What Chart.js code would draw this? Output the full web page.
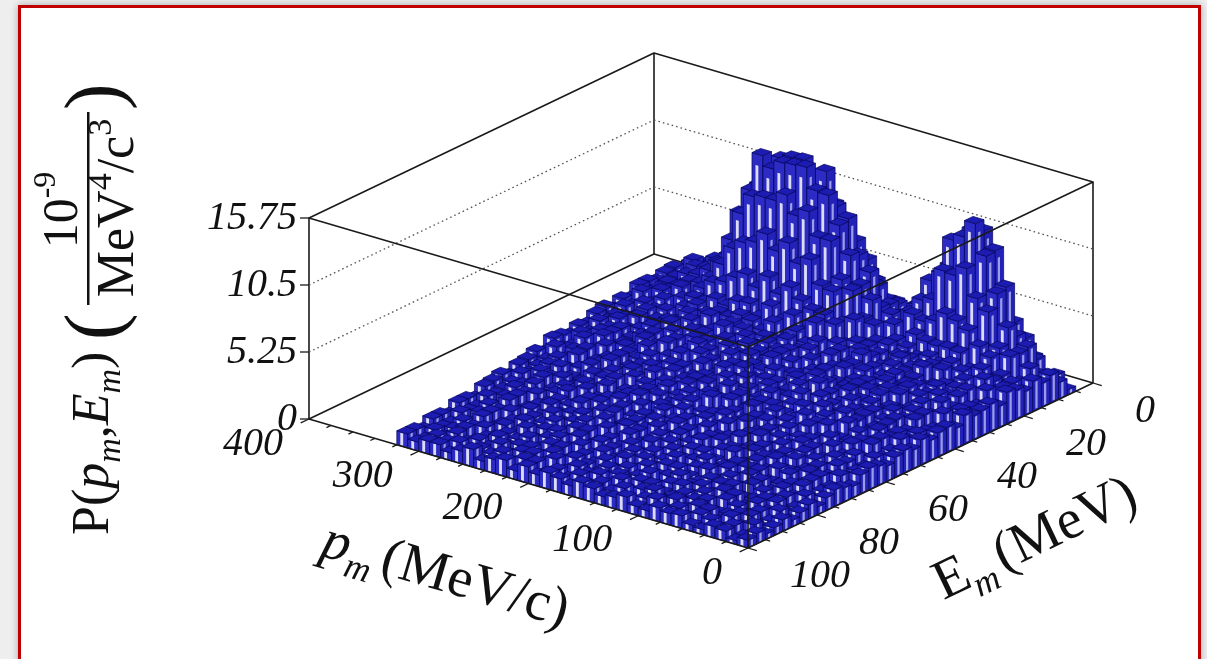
<!DOCTYPE html>
<html>
<head>
<meta charset="utf-8">
<script src="https://cdn.jsdelivr.net/npm/chart.js@4.4.1/dist/chart.umd.min.js"></script>
<style>
  html, body { margin: 0; padding: 0; width: 1207px; height: 659px; overflow: hidden; background: #eeeeee; }
  #frame { position: absolute; left: 18px; top: 5px; width: 1177px; height: 700px; border: 3px solid #c00000; background: #fff; box-shadow: 0 0 7px rgba(0,0,0,0.3); }
  #lego { position: absolute; left: 0; top: 0; }
</style>
</head>
<body>
<div id="frame"></div>
<canvas id="lego" width="1207" height="659"></canvas>
<script>
// P(pm, Em) lego plot, values in 1e-9 MeV^-4 c^3.
const PM_BIN = 10;   // MeV/c
const EM_BIN = 2.5;  // MeV
const pmCenters = [5,15,25,35,45,55,65,75,85,95,105,115,125,135,145,155,165,175,185,195,205,215,225,235,245,255,265,275,285,295,305,315];
const emCenters = [6.25,8.75,11.25,13.75,16.25,18.75,21.25,23.75,26.25,28.75,31.25,33.75,36.25,38.75,41.25,43.75,46.25,48.75,51.25,53.75,56.25,58.75,61.25,63.75,66.25,68.75,71.25,73.75,76.25,78.75,81.25,83.75,86.25,88.75,91.25,93.75,96.25,98.75];
// one row per Em bin, one value per pm bin
const prob = [
  [0.4,1.3,1.0,2.2,2.2,3.9,4.2,3.9,3.6,2.8,2.5,2.0,1.1,1.7,0.8,1.6,1.1,1.6,1.2,1.5,1.2,1.4,1.4,1.1,1.5,1.0,1.3,1.1,1.5,0.7,1.4,0.9],
  [1.3,1.5,2.6,4.0,5.0,6.9,8.3,8.5,7.4,5.7,4.1,4.0,2.7,2.4,2.6,3.4,2.5,3.5,3.4,3.3,3.6,3.1,3.3,3.6,2.5,3.3,2.7,1.9,2.7,2.2,2.2,2.5],
  [2.2,2.0,3.9,4.5,8.1,10.7,12.0,11.8,10.1,8.5,6.7,4.4,4.6,3.5,4.4,4.0,5.6,5.0,5.8,5.1,6.2,5.8,5.5,5.8,5.0,4.5,3.4,3.6,3.3,3.4,2.9,3.1],
  [1.9,2.8,3.7,5.5,7.9,10.6,12.9,11.6,11.1,8.2,7.4,5.2,4.3,4.8,4.9,6.1,7.1,8.0,8.4,8.7,8.7,9.0,9.0,7.9,8.0,5.7,5.2,3.8,4.3,3.1,3.8,3.0],
  [2.4,2.0,3.8,4.2,6.8,7.6,9.7,8.9,9.0,6.5,6.2,5.0,4.4,5.1,6.3,8.1,9.3,10.6,11.7,12.0,12.0,11.9,12.6,10.9,10.5,7.4,6.7,4.8,4.1,4.2,3.8,3.8],
  [1.9,2.3,2.6,3.8,4.4,5.4,5.9,6.2,5.4,5.1,5.4,4.0,4.9,5.2,7.7,8.8,11.4,12.1,14.6,14.0,15.0,14.9,14.6,14.1,12.0,9.4,7.2,4.8,5.2,3.9,4.6,3.5],
  [2.3,2.2,2.5,3.2,2.9,4.0,4.1,4.0,4.1,4.4,3.5,4.7,3.9,6.1,7.0,9.1,11.2,13.3,13.4,15.0,14.9,14.8,14.1,14.9,11.9,9.9,6.3,5.5,4.8,4.7,3.6,4.1],
  [2.5,1.9,3.0,2.1,3.1,3.5,3.2,3.5,3.2,3.7,4.0,3.3,4.7,4.9,6.9,7.5,10.3,10.3,12.1,11.5,12.9,12.2,12.2,12.0,10.4,8.1,6.0,5.2,4.6,4.4,3.9,4.0],
  [1.7,2.7,2.2,3.0,2.3,3.3,3.4,3.1,3.4,3.4,4.0,4.0,3.5,5.2,4.7,6.9,7.1,8.9,8.3,9.7,8.8,9.9,9.0,8.7,8.0,6.5,5.2,4.5,4.4,3.8,3.8,3.7],
  [2.2,1.8,2.8,2.7,2.7,2.4,3.6,3.3,3.8,3.0,3.6,3.9,4.0,3.6,4.9,5.4,5.5,6.0,6.8,6.0,7.1,6.0,6.8,6.3,5.7,5.4,4.7,3.6,4.3,3.8,3.7,4.0],
  [2.0,2.0,2.6,2.5,2.9,2.6,3.0,3.2,3.5,3.2,3.7,4.0,3.1,4.0,3.6,5.1,4.1,5.2,4.5,5.4,4.3,5.1,5.0,4.4,4.7,4.2,4.3,4.0,3.2,4.1,3.3,4.0],
  [1.9,2.1,2.1,2.8,2.6,3.0,2.9,3.4,3.0,3.4,4.2,3.3,4.0,3.2,4.2,3.8,4.5,3.6,4.7,3.8,4.3,4.5,4.1,4.2,3.9,4.3,3.9,3.1,4.0,3.4,4.1,3.3],
  [2.3,1.8,2.8,1.9,2.8,3.2,2.8,3.2,2.8,3.5,3.7,3.0,4.0,3.3,3.9,3.6,4.2,3.8,3.9,3.5,4.0,4.2,3.5,4.3,3.5,4.0,3.1,3.7,3.5,3.8,3.3,3.6],
  [1.6,2.5,2.1,2.8,2.1,3.0,3.2,2.8,3.2,3.1,3.8,3.6,3.1,3.7,3.1,3.9,3.7,4.0,3.5,4.0,3.5,4.3,3.7,3.4,4.0,3.5,3.5,3.3,3.8,3.0,3.6,3.1],
  [2.0,1.6,2.5,2.5,2.2,2.3,3.0,3.2,3.3,2.9,3.0,3.7,3.4,2.8,3.6,4.0,3.4,3.6,4.0,3.4,3.9,3.4,3.8,3.8,3.1,3.9,3.4,2.9,3.6,3.3,3.2,3.6],
  [1.9,1.7,2.4,2.2,2.6,2.2,2.7,2.7,3.2,2.8,3.3,3.6,2.8,3.2,3.1,4.0,3.2,3.7,3.5,3.9,3.0,3.7,3.8,2.9,3.8,3.2,3.7,3.2,2.9,3.5,3.1,3.4],
  [1.6,1.9,1.8,2.5,2.2,2.6,2.4,3.0,2.5,3.0,3.6,2.8,3.5,2.7,3.6,3.3,3.5,3.1,3.8,3.0,3.6,3.9,3.1,3.7,3.1,3.7,3.3,2.8,3.3,3.1,3.4,2.9],
  [2.0,1.7,2.0,2.4,1.9,2.6,2.8,2.4,2.7,3.1,2.6,3.5,2.8,3.2,3.2,3.0,3.6,3.6,2.8,3.4,3.7,3.0,3.0,3.8,3.3,3.6,2.6,2.7,3.3,3.2,2.8,3.1],
  [1.5,2.1,1.9,2.3,1.8,2.5,2.9,2.3,2.9,2.5,3.4,2.9,2.7,3.3,2.4,3.4,3.0,3.7,2.8,3.5,2.9,3.8,3.3,2.7,3.6,2.9,3.1,2.6,3.4,2.5,3.1,2.7],
  [1.8,1.5,2.2,1.6,2.2,2.7,2.1,2.7,2.0,3.0,2.9,2.3,3.3,2.6,3.1,2.8,3.5,2.9,3.1,2.8,3.3,3.3,2.8,3.4,2.9,3.1,2.4,3.2,2.6,3.3,2.4,3.0],
  [1.6,1.3,2.1,2.1,1.8,1.8,2.6,2.5,2.9,2.3,2.5,2.9,2.9,2.3,2.9,3.4,2.6,3.1,3.2,2.9,3.3,2.7,3.2,3.0,2.6,3.2,2.8,2.3,3.0,2.7,2.6,3.1],
  [1.2,1.6,1.3,2.2,1.6,2.2,1.8,2.6,1.8,2.5,3.0,2.2,2.9,2.2,2.9,2.7,2.9,2.4,3.1,2.5,2.8,3.3,2.5,3.0,2.4,3.2,2.7,2.0,2.9,2.3,3.0,2.3],
  [1.5,1.2,1.9,1.6,2.1,1.5,2.1,2.0,2.5,2.0,2.6,2.6,2.1,2.5,2.2,3.2,2.3,3.0,2.5,3.0,2.3,2.7,3.0,2.1,2.9,2.3,2.9,2.4,2.1,2.7,2.3,2.7],
  [1.7,1.2,1.6,1.8,1.4,2.0,2.2,1.7,2.1,2.4,2.0,2.6,2.2,2.6,2.4,2.3,2.9,2.7,2.2,2.6,2.8,2.4,2.2,2.9,2.7,2.8,1.9,2.0,2.6,2.5,2.1,2.4],
  [1.5,1.0,1.7,1.2,1.7,2.0,1.5,2.1,1.6,2.3,2.2,1.7,2.5,2.0,2.4,2.0,2.6,2.2,2.4,2.0,2.7,2.5,2.0,2.7,2.1,2.4,1.8,2.3,2.1,2.3,1.9,2.3],
  [0.9,1.5,1.2,1.7,1.2,1.8,2.0,1.5,2.0,1.7,2.3,2.0,1.8,2.3,1.7,2.4,2.1,2.6,1.8,2.5,2.1,2.5,2.3,2.0,2.5,1.9,2.2,1.7,2.4,1.6,2.2,1.8],
  [1.1,0.9,1.5,1.6,1.2,1.2,1.9,1.8,2.0,1.5,1.7,2.1,2.1,1.6,2.1,2.4,1.8,2.2,2.3,1.9,2.4,1.7,2.3,2.3,1.7,2.4,2.0,1.5,2.2,1.9,1.8,2.2],
  [1.3,0.9,1.5,0.9,1.5,1.7,1.3,1.8,1.3,2.0,1.9,1.4,2.2,1.7,2.1,1.7,2.2,1.8,2.1,1.6,2.3,2.2,1.6,2.3,1.8,2.0,1.5,2.0,1.8,2.0,1.6,2.0],
  [1.0,0.6,1.4,1.3,1.0,1.0,1.6,1.6,1.7,1.2,1.4,1.8,1.8,1.3,1.8,2.1,1.4,1.9,2.1,1.5,2.1,1.4,2.0,1.8,1.5,2.0,1.7,1.2,1.9,1.6,1.5,1.9],
  [0.6,1.2,0.9,1.3,0.8,1.4,1.6,1.0,1.6,1.2,1.8,1.5,1.3,1.8,1.2,1.9,1.5,2.0,1.3,2.0,1.4,2.0,1.7,1.4,1.9,1.4,1.7,1.2,1.9,1.1,1.7,1.3],
  [1.1,0.6,1.2,0.7,1.1,1.4,0.9,1.5,0.9,1.6,1.5,1.0,1.8,1.3,1.7,1.3,1.8,1.3,1.7,1.2,1.8,1.8,1.2,1.8,1.4,1.6,1.1,1.6,1.4,1.6,1.2,1.6],
  [0.8,0.5,1.1,1.1,0.8,0.7,1.4,1.3,1.4,0.9,1.1,1.5,1.5,1.0,1.5,1.8,1.1,1.5,1.8,1.2,1.7,1.2,1.6,1.5,1.2,1.7,1.4,0.9,1.6,1.3,1.2,1.6],
  [0.5,1.0,0.7,1.1,0.6,1.2,1.3,0.8,1.2,1.0,1.5,1.2,1.0,1.5,0.9,1.6,1.2,1.6,1.1,1.6,1.1,1.7,1.4,1.0,1.7,1.0,1.4,0.9,1.6,0.8,1.4,1.0],
  [0.9,0.5,1.0,0.5,0.9,1.2,0.6,1.2,0.7,1.3,1.2,0.7,1.5,1.0,1.4,1.0,1.5,1.0,1.4,0.9,1.5,1.5,0.9,1.5,1.1,1.3,0.8,1.3,1.1,1.3,0.9,1.3],
  [0.6,0.3,1.0,0.9,0.6,0.5,1.2,1.0,1.2,0.7,0.8,1.2,1.2,0.7,1.2,1.5,0.8,1.2,1.5,0.9,1.4,0.9,1.3,1.2,0.9,1.4,1.1,0.6,1.3,1.0,0.9,1.3],
  [0.4,0.9,0.5,1.0,0.4,1.0,1.1,0.6,1.1,0.7,1.3,1.1,0.7,1.4,0.7,1.3,1.1,1.4,0.8,1.5,0.9,1.4,1.3,0.8,1.4,0.9,1.2,0.8,1.2,0.7,1.0,0.8],
  [0.8,0.3,0.9,0.3,0.8,1.0,0.5,1.0,0.5,1.2,1.0,0.5,1.3,0.8,1.2,0.7,1.3,0.8,1.2,0.7,1.3,1.3,0.7,1.3,0.9,1.1,0.6,1.1,0.9,1.1,0.6,1.1],
  [0.6,0.3,0.8,0.9,0.4,0.5,1.0,0.9,1.1,0.6,0.7,1.2,0.9,0.7,1.1,1.3,0.8,1.1,1.3,0.9,1.3,0.7,1.3,1.1,0.7,1.4,1.0,0.6,1.0,1.0,0.7,1.1],
];
const zTicks = [0, 5.25, 10.5, 15.75];
const zTickLabels = ["0", "5.25", "10.5", "15.75"];
const pmTicks = [0, 100, 200, 300, 400];
const pmTickLabels = ["0", "100", "200", "300", "400"];
const emTicks = [0, 20, 40, 60, 80, 100];
const emTickLabels = ["0", "20", "40", "60", "80", "100"];

// axis ranges and how the box sits on the page (oblique view)
const PM_MAX = 400, EM_MAX = 100, Z_MAX = 15.75;
const VIEW = { pmDx: -439, pmDy: 129, emDx: 345, emDy: 165, zDy: 201 };
const projU = (pm, em) => VIEW.pmDx * pm / PM_MAX + VIEW.emDx * (EM_MAX - em) / EM_MAX;
const projV = (pm, em, z) => VIEW.pmDy * pm / PM_MAX + VIEW.emDy * (EM_MAX - em) / EM_MAX + VIEW.zDy * z / Z_MAX;

const SERIF = '"Liberation Serif", "DejaVu Serif", "Times New Roman", serif';
const font = (size, it) => (it ? "italic " : "") + size + "px " + SERIF;

const TOP_FILL = "#1c1cb2";
const LEFT_FILL = "#2c2cc4", LEFT_STRIPE = "#dcdcfa";
const RIGHT_FILL = "#2222b8", RIGHT_STRIPE = "#9c9ce6";
const EDGE = "#07075e";

function poly(ctx, pts) {
  ctx.beginPath();
  ctx.moveTo(pts[0][0], pts[0][1]);
  for (let k = 1; k < pts.length; k++) ctx.lineTo(pts[k][0], pts[k][1]);
  ctx.closePath();
}
const lerp = (a, b, t) => [a[0] + (b[0] - a[0]) * t, a[1] + (b[1] - a[1]) * t];

// side face: fill, a light vertical strip in the middle, dark outline
function sideFace(ctx, q, fill, stripe) {
  poly(ctx, q);
  ctx.fillStyle = fill;
  ctx.fill();
  const [A, B, C, D] = q;
  const a0 = lerp(A, B, 0.32), a1 = lerp(A, B, 0.58), d0 = lerp(D, C, 0.32), d1 = lerp(D, C, 0.58);
  poly(ctx, [lerp(a0, d0, 0.06), lerp(a1, d1, 0.06), lerp(a1, d1, 0.94), lerp(a0, d0, 0.94)]);
  ctx.fillStyle = stripe;
  ctx.fill();
  poly(ctx, q);
  ctx.stroke();
}

function richText(ctx, runs, x, y, angle, align) {
  ctx.save();
  ctx.translate(x, y);
  ctx.rotate(angle);
  ctx.textAlign = "left";
  ctx.textBaseline = "alphabetic";
  let w = 0;
  for (const r of runs) { ctx.font = font(r.size, r.it); r.w = ctx.measureText(r.t).width + (r.gap || 0); w += r.w; }
  let cx = align === "left" ? 0 : align === "right" ? -w : -w / 2;
  for (const r of runs) { ctx.font = font(r.size, r.it); ctx.fillText(r.t, cx, r.dy || 0); cx += r.w; }
  ctx.restore();
}

const lego = {
  id: "lego",
  afterDraw(chart) {
    const ctx = chart.ctx, xs = chart.scales.x, ys = chart.scales.y;
    const P = (pm, em, z) => [xs.getPixelForValue(projU(pm, em)), ys.getPixelForValue(projV(pm, em, z))];
    const line = (a, b) => { ctx.beginPath(); ctx.moveTo(a[0], a[1]); ctx.lineTo(b[0], b[1]); ctx.stroke(); };

    ctx.save();
    ctx.lineCap = "butt";
    // back walls
    ctx.strokeStyle = "#1a1a1a";
    ctx.lineWidth = 1.6;
    line(P(PM_MAX, EM_MAX, 0), P(PM_MAX, EM_MAX, Z_MAX));
    line(P(PM_MAX, 0, 0), P(PM_MAX, 0, Z_MAX));
    line(P(0, 0, 0), P(0, 0, Z_MAX));
    line(P(PM_MAX, EM_MAX, 0), P(PM_MAX, 0, 0));
    line(P(PM_MAX, 0, 0), P(0, 0, 0));
    ctx.strokeStyle = "#555";
    ctx.lineWidth = 1.3;
    ctx.setLineDash([1.6, 3]);
    zTicks.forEach((z) => {
      if (z <= 0 || z >= Z_MAX) return;
      line(P(PM_MAX, EM_MAX, z), P(PM_MAX, 0, z));
      line(P(PM_MAX, 0, z), P(0, 0, z));
    });
    ctx.setLineDash([]);

    // bars, back to front
    ctx.strokeStyle = EDGE;
    ctx.lineWidth = 0.7;
    ctx.lineJoin = "round";
    for (let i = pmCenters.length - 1; i >= 0; i--) {
      for (let j = 0; j < emCenters.length; j++) {
        const h = Math.min(prob[j][i], Z_MAX);
        if (!(h > 0)) continue;
        const p0 = pmCenters[i] - PM_BIN / 2, p1 = pmCenters[i] + PM_BIN / 2;
        const e0 = emCenters[j] - EM_BIN / 2, e1 = emCenters[j] + EM_BIN / 2;
        sideFace(ctx, [P(p1, e1, 0), P(p0, e1, 0), P(p0, e1, h), P(p1, e1, h)], LEFT_FILL, LEFT_STRIPE);
        sideFace(ctx, [P(p0, e1, 0), P(p0, e0, 0), P(p0, e0, h), P(p0, e1, h)], RIGHT_FILL, RIGHT_STRIPE);
        poly(ctx, [P(p0, e0, h), P(p1, e0, h), P(p1, e1, h), P(p0, e1, h)]);
        ctx.fillStyle = TOP_FILL;
        ctx.fill();
        ctx.stroke();
      }
    }

    // front edges and top of the box
    ctx.strokeStyle = "#1a1a1a";
    ctx.lineWidth = 1.6;
    line(P(PM_MAX, EM_MAX, 0), P(0, EM_MAX, 0));
    line(P(0, EM_MAX, 0), P(0, 0, 0));
    line(P(0, EM_MAX, 0), P(0, EM_MAX, Z_MAX));
    poly(ctx, [P(PM_MAX, EM_MAX, Z_MAX), P(PM_MAX, 0, Z_MAX), P(0, 0, Z_MAX), P(0, EM_MAX, Z_MAX)]);
    ctx.stroke();

    // ticks
    ctx.lineWidth = 1.3;
    for (let pm = 0; pm <= PM_MAX; pm += 20) {
      const len = pm % 100 === 0 ? 2.4 : 1.3;
      line(P(pm, EM_MAX, 0), P(pm, EM_MAX + len, 0));
    }
    for (let em = 0; em <= EM_MAX; em += 5) {
      const len = em % 20 === 0 ? 8 : 4.5;
      line(P(0, em, 0), P(-len, em, 0));
    }
    zTicks.forEach((z) => {
      const p = P(PM_MAX, EM_MAX, z);
      line([p[0] - 9, p[1]], p);
    });

    // tick labels
    ctx.fillStyle = "#111";
    ctx.textBaseline = "middle";
    ctx.font = font(40, true);
    ctx.textAlign = "right";
    zTicks.forEach((z, k) => {
      const p = P(PM_MAX, EM_MAX, z);
      ctx.fillText(zTickLabels[k], p[0] - 12, p[1]);
    });
    pmTicks.forEach((pm, k) => {
      const p = P(pm, EM_MAX, 0);
      ctx.fillText(pmTickLabels[k], p[0] - 26, p[1] + 25);
    });
    ctx.textAlign = "left";
    emTicks.forEach((em, k) => {
      const p = P(0, em, 0);
      ctx.fillText(emTickLabels[k], p[0] + 42, p[1] + 28);
    });

    // axis titles
    const aPm = Math.atan2(VIEW.pmDy, -VIEW.pmDx);
    const aEm = -Math.atan2(VIEW.emDy, VIEW.emDx);
    richText(ctx, [
      { t: "p", size: 56, it: true },
      { t: "m", size: 36, it: true, dy: 13, gap: 8 },
      { t: "(MeV/c)", size: 56 },
    ], 441, 591, aPm, "center");
    richText(ctx, [
      { t: "E", size: 56 },
      { t: "m", size: 36, it: true, dy: 13, gap: 6 },
      { t: "(MeV)", size: 56 },
    ], 1042, 553, aEm, "center");

    // vertical title: P(p_m,E_m) (10^-9 / MeV^4/c^3)
    ctx.save();
    ctx.rotate(-Math.PI / 2);
    richText(ctx, [
      { t: "P(", size: 52 },
      { t: "p", size: 52, it: true },
      { t: "m", size: 34, it: true, dy: 12 },
      { t: ",", size: 52 },
      { t: "E", size: 52, it: true },
      { t: "m", size: 34, it: true, dy: 12 },
      { t: ")", size: 52 },
    ], -535, 108, 0, "left");
    richText(ctx, [{ t: "(", size: 80 }], -340, 120, 0, "left");
    richText(ctx, [
      { t: "10", size: 50 },
      { t: "-9", size: 32, dy: -22 },
    ], -210, 77, 0, "center");
    ctx.fillRect(-305, 87, 193, 2.5);
    richText(ctx, [
      { t: "MeV", size: 52 },
      { t: "4", size: 34, dy: -22 },
      { t: "/c", size: 52 },
      { t: "3", size: 34, dy: -22 },
    ], -208, 133, 0, "center");
    richText(ctx, [{ t: ")", size: 80 }], -110, 120, 0, "left");
    ctx.restore();

    ctx.restore();
  },
};

new Chart(document.getElementById("lego"), {
  type: "scatter",
  data: { datasets: [{ data: [], pointRadius: 0 }] },
  options: {
    responsive: false,
    animation: false,
    events: [],
    layout: { padding: 0 },
    plugins: { legend: { display: false }, tooltip: { enabled: false } },
    scales: {
      x: { type: "linear", min: -748, max: 459, display: false },
      y: { type: "linear", min: -111, max: 548, display: false },
    },
  },
  plugins: [lego],
});
</script>
</body>
</html>
